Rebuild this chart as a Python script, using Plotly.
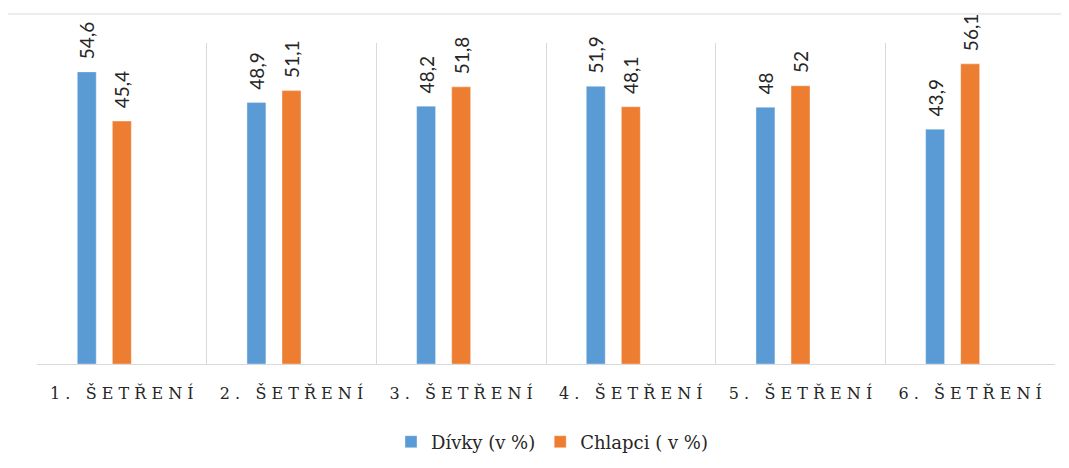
import plotly.graph_objects as go

categories = ["1. ŠETŘENÍ", "2. ŠETŘENÍ", "3. ŠETŘENÍ", "4. ŠETŘENÍ", "5. ŠETŘENÍ", "6. ŠETŘENÍ"]
divky = [54.6, 48.9, 48.2, 51.9, 48, 43.9]
chlapci = [45.4, 51.1, 51.8, 48.1, 52, 56.1]
series_names = ["Dívky (v %)", "Chlapci ( v %)"]

NB = "\u00a0"
SERIF = "DejaVu Serif"


def spaced(s):
    return NB.join(ch if ch != " " else NB for ch in s)


def lab(v):
    return NB + NB + str(v).replace(".", ",")


cat_labels = [spaced(c) for c in categories]

fig = go.Figure()
fig.add_trace(go.Bar(
    x=cat_labels, y=divky, name=series_names[0],
    marker=dict(color="#5B9BD5", line=dict(color="rgba(255,255,255,0.6)", width=0.6)),
    text=[lab(v) for v in divky], textposition="outside", textangle=-90, constraintext="none",
    textfont=dict(family="Lato", size=19, color="#262626"), cliponaxis=False,
))
fig.add_trace(go.Bar(
    x=cat_labels, y=chlapci, name=series_names[1],
    marker=dict(color="#ED7D31", line=dict(color="rgba(255,255,255,0.6)", width=0.6)),
    text=[lab(v) for v in chlapci], textposition="outside", textangle=-90, constraintext="none",
    textfont=dict(family="Lato", size=19, color="#262626"), cliponaxis=False,
))
# empty third slot in each group (as in the original chart)
fig.add_trace(go.Bar(x=cat_labels, y=[None] * len(cat_labels), showlegend=False,
                     hoverinfo="skip", marker=dict(color="rgba(0,0,0,0)")))

OFF = 8  # page body margin offset
W, H = 1069, 468
L = 37 - OFF
T = 43 - OFF
R = W - (1055 - OFF)
B = H - (364 - OFF)
pw, ph = W - L - R, H - T - B


def px2x(px):
    return (px - OFF - L) / pw


def py2y(py):
    return (H - B - (py - OFF)) / ph


fig.update_layout(
    width=W, height=H,
    margin=dict(l=L, r=R, t=T, b=B),
    paper_bgcolor="white", plot_bgcolor="white",
    barmode="group", bargap=0.38, bargroupgap=0.46,
    xaxis=dict(type="category", tickson="boundaries", showgrid=True, gridcolor="#d9d9d9",
               gridwidth=1, showline=True, linecolor="#d9d9d9", linewidth=1,
               ticks="", ticklabelstandoff=15,
               tickfont=dict(family=SERIF, size=16, color="#262626"),
               range=[-0.5, 5.5]),
    yaxis=dict(range=[0, 60], visible=False, showgrid=False, zeroline=False),
    legend=dict(orientation="h", x=px2x(552), y=py2y(442), xanchor="center", yanchor="middle",
                font=dict(family=SERIF, size=18, color="#262626"),
                itemwidth=30, traceorder="normal"),
    showlegend=True,
    shapes=[
        dict(type="line", xref="paper", yref="paper", x0=px2x(7), x1=px2x(1080),
             y0=py2y(14), y1=py2y(14), line=dict(color="#d9d9d9", width=1)),
        dict(type="line", xref="paper", yref="paper", x0=px2x(7), x1=px2x(7),
             y0=py2y(14), y1=py2y(480), line=dict(color="#d9d9d9", width=1)),
    ],
)

fig.write_html("out.html")
